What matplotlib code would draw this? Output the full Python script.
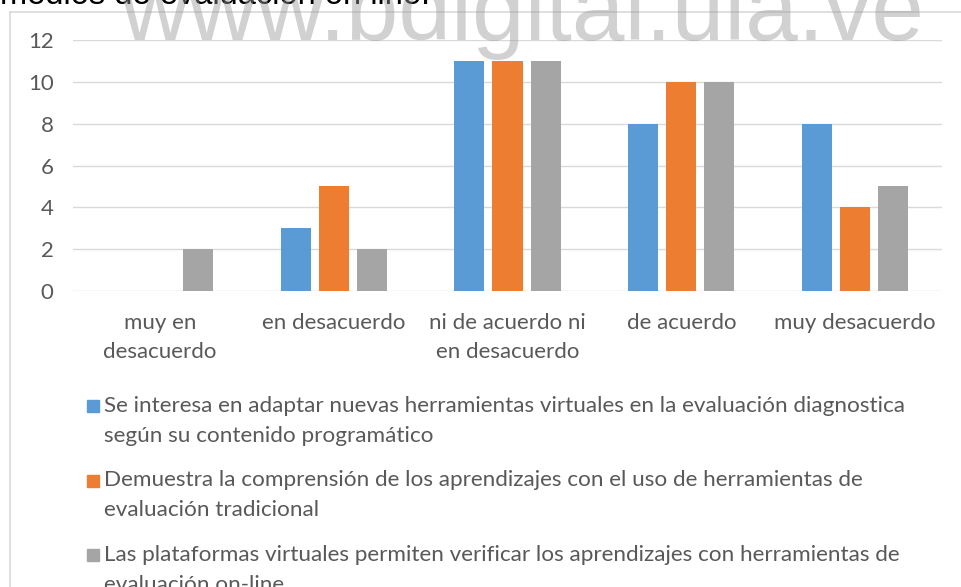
import matplotlib
matplotlib.use("Agg")
import matplotlib.pyplot as plt
from matplotlib.patches import Rectangle
from matplotlib.lines import Line2D
import numpy as np

# datos del grafico
categorias = ["muy en\ndesacuerdo", "en desacuerdo", "ni de acuerdo ni\nen desacuerdo",
              "de acuerdo", "muy desacuerdo"]
serie_1 = [0, 3, 11, 8, 8]
serie_2 = [0, 5, 11, 10, 4]
serie_3 = [2, 2, 11, 10, 5]
nombres = [
    "Se interesa en adaptar nuevas herramientas virtuales en la evaluación diagnostica\nsegún su contenido programático",
    "Demuestra la comprensión de los aprendizajes con el uso de herramientas de\nevaluación tradicional",
    "Las plataformas virtuales permiten verificar los aprendizajes con herramientas de\nevaluación on-line",
]
colores = ["#5B9BD5", "#ED7D31", "#A5A5A5"]
yticks = [0, 2, 4, 6, 8, 10, 12]

W, H = 962, 587
texto_gris = "#595959"
fuente = ["Lato", "DejaVu Sans"]

fig = plt.figure(figsize=(W / 100, H / 100), dpi=100)

def px(x, y):
    # pixeles (desde arriba a la izquierda) a fraccion de figura
    return x / W, 1 - y / H

# marco del grafico
fig.add_artist(Line2D([10 / W, 1], [1 - 12 / H] * 2, color="#D9D9D9", lw=1.2))
fig.add_artist(Line2D([10 / W] * 2, [0, 1 - 12 / H], color="#D9D9D9", lw=1.2))

ax = fig.add_axes([73 / W, (H - 291) / H, 869 / W, 251 / H])
x = np.arange(len(categorias))
ancho = 0.173
paso = 0.219
for i, (vals, col) in enumerate(zip([serie_1, serie_2, serie_3], colores)):
    ax.bar(x + (i - 1) * paso, vals, width=ancho, color=col, zorder=3)

ax.set_xlim(-0.5, len(categorias) - 0.5)
ax.set_ylim(0, 12)
ax.set_yticks(yticks)
ax.set_yticklabels([str(v) for v in yticks], fontsize=16, color=texto_gris, family=fuente)
ax.set_xticks(x)
ax.set_xticklabels(categorias, fontsize=16, color=texto_gris, family=fuente, linespacing=1.55)
ax.tick_params(axis="y", length=0, pad=14)
ax.tick_params(axis="x", length=0, pad=16)
ax.grid(axis="y", color="#D9D9D9", lw=1.0, zorder=0)
for s in ax.spines.values():
    s.set_visible(False)

# leyenda (cuadro de color alineado con la primera linea)
for i, (nombre, col) in enumerate(zip(nombres, colores)):
    yy = 406 + i * 74.5
    fx, fy = px(87, yy + 6)
    fig.add_artist(Rectangle((fx, fy), 12 / W, 12 / H, color=col, transform=fig.transFigure))
    tx, ty = px(104, yy - 10)
    fig.text(tx, ty, nombre, fontsize=16.2, color=texto_gris, family=fuente,
             va="top", ha="left", linespacing=1.6)

# titulo cortado arriba
fig.text(0, 1 - 4 / H, "medios de evaluación on line.", fontsize=23.5,
         family=["Liberation Sans", "DejaVu Sans"], color="black", va="baseline", ha="left")

# marca de agua
fig.text(120 / W, 1 - 40 / H, "www.bdigital.ula.ve", fontsize=68,
         family=["Liberation Sans", "DejaVu Sans"], color="#999999", alpha=0.45,
         va="baseline", ha="left", zorder=10)

fig.savefig("out.png", dpi=100)
